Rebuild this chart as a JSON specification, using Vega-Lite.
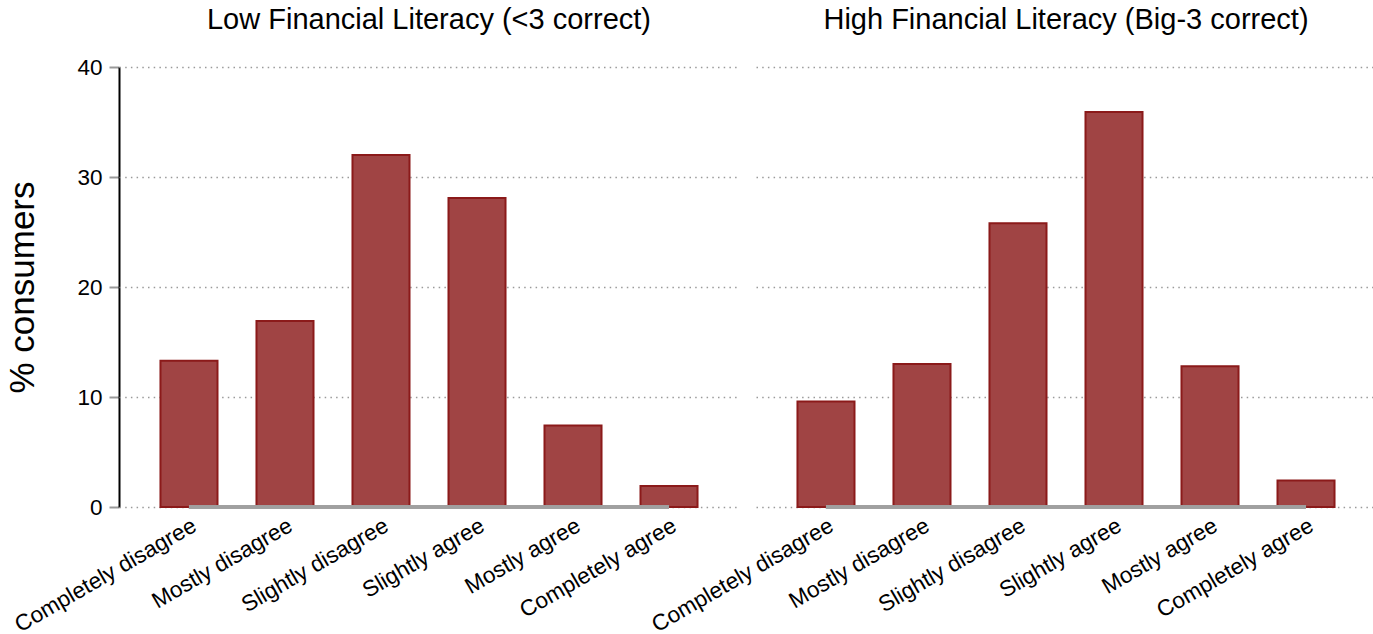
{
  "$schema": "https://vega.github.io/schema/vega-lite/v6.json",
  "padding": {"left": 5, "top": 6, "right": 0, "bottom": 0},
  "background": "white",
  "config": {
    "font": "Liberation Sans",
    "view": {"stroke": null},
    "axis": {"labelFont": "Liberation Sans", "titleFont": "Liberation Sans"}
  },
  "data": {
    "values": [
      {"group": "Low Financial Literacy (<3 correct)", "response": "Completely disagree", "pct": 13.3},
      {"group": "Low Financial Literacy (<3 correct)", "response": "Mostly disagree", "pct": 16.9},
      {"group": "Low Financial Literacy (<3 correct)", "response": "Slightly disagree", "pct": 32.0},
      {"group": "Low Financial Literacy (<3 correct)", "response": "Slightly agree", "pct": 28.1},
      {"group": "Low Financial Literacy (<3 correct)", "response": "Mostly agree", "pct": 7.4},
      {"group": "Low Financial Literacy (<3 correct)", "response": "Completely agree", "pct": 1.9},
      {"group": "High Financial Literacy (Big-3 correct)", "response": "Completely disagree", "pct": 9.6},
      {"group": "High Financial Literacy (Big-3 correct)", "response": "Mostly disagree", "pct": 13.0},
      {"group": "High Financial Literacy (Big-3 correct)", "response": "Slightly disagree", "pct": 25.8},
      {"group": "High Financial Literacy (Big-3 correct)", "response": "Slightly agree", "pct": 35.9},
      {"group": "High Financial Literacy (Big-3 correct)", "response": "Mostly agree", "pct": 12.8},
      {"group": "High Financial Literacy (Big-3 correct)", "response": "Completely agree", "pct": 2.4}
    ]
  },
  "facet": {
    "column": {
      "field": "group",
      "type": "nominal",
      "sort": ["Low Financial Literacy (<3 correct)", "High Financial Literacy (Big-3 correct)"],
      "title": null,
      "header": {"labelFontSize": 29, "labelFont": "Liberation Sans", "labelColor": "black", "labelPadding": 32}
    }
  },
  "spacing": 17,
  "spec": {
    "width": 620,
    "height": 440,
    "layer": [
      {
        "mark": {"type": "bar", "fill": "#a04444", "stroke": "#8b1a1a", "strokeWidth": 2},
        "encoding": {
          "x": {
            "field": "response",
            "type": "nominal",
            "sort": ["Completely disagree", "Mostly disagree", "Slightly disagree", "Slightly agree", "Mostly agree", "Completely agree"],
            "scale": {"paddingInner": 0.406, "paddingOuter": 0.432},
            "axis": {
              "title": null,
              "labelAngle": -30,
              "labelFontSize": 22.5,
              "labelColor": "black",
              "labelPadding": 5,
              "labelLimit": 0,
              "labelOverlap": false,
              "ticks": false,
              "domain": false,
              "grid": false
            }
          },
          "y": {
            "field": "pct",
            "type": "quantitative",
            "scale": {"domain": [0, 40]},
            "axis": {
              "title": "% consumers",
              "titleFontSize": 35,
              "titleFontWeight": "normal",
              "titleColor": "black",
              "titlePadding": 36,
              "values": [0, 10, 20, 30, 40],
              "labelFontSize": 22.5,
              "labelColor": "black",
              "labelPadding": 7,
              "tickColor": "#999999",
              "tickSize": 10,
              "tickWidth": 2,
              "domainColor": "black",
              "domainWidth": 2,
              "grid": true,
              "gridColor": "#9a9a9a",
              "gridDash": [1.5, 4.2],
              "gridWidth": 1.5
            }
          }
        }
      },
      {
        "mark": {"type": "rule", "color": "#a0a0a0", "strokeWidth": 3},
        "encoding": {
          "x": {"datum": "Completely disagree"},
          "x2": {"datum": "Completely agree"},
          "y": {"datum": 0}
        }
      }
    ]
  },
  "resolve": {"scale": {"x": "shared"}}
}
